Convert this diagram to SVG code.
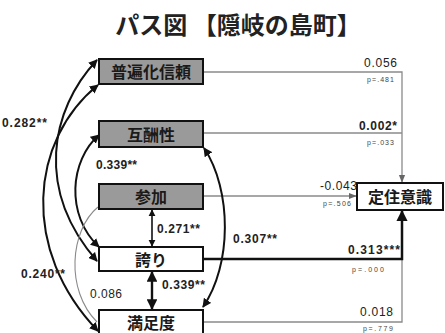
<svg xmlns="http://www.w3.org/2000/svg" width="445" height="333" viewBox="0 0 445 333">
<style>
.box{stroke:#111;stroke-width:2}
.g{fill:#9a9a9a}
.w{fill:#fff}
.bl{font-family:"Noto Sans CJK JP","Noto Sans",sans-serif;font-weight:bold;font-size:16px;fill:#1a1a1a;text-anchor:middle}
.num{font-family:"Liberation Sans","Noto Sans",sans-serif;font-size:12px;fill:#222}
.b{font-weight:bold}
.p{font-family:"Liberation Sans",sans-serif;font-size:7px;fill:#444}
.gl{fill:none;stroke:#8a8a8a;stroke-width:1.3}
.k{fill:none;stroke:#111;stroke-width:2}
</style>
<defs>
<marker id="ak" viewBox="0 0 10 10" refX="9" refY="5" markerWidth="4.5" markerHeight="4.5" orient="auto-start-reverse" markerUnits="strokeWidth"><path d="M0,0 L10,5 L0,10 z" fill="#111"/></marker>
<marker id="ag" viewBox="0 0 10 10" refX="9" refY="5" markerWidth="6" markerHeight="6" orient="auto-start-reverse" markerUnits="strokeWidth"><path d="M0,1 L10,5 L0,9 z" fill="#666"/></marker>
</defs>
<rect width="445" height="333" fill="#fff"/>
<text x="238" y="34" font-family="'Noto Sans CJK JP',sans-serif" font-weight="bold" font-size="24" fill="#222" text-anchor="middle">パス図 【隠岐の島町】</text>

<g id="connectors">
<path class="gl" d="M203,72 H402 V182" marker-end="url(#ag)"/>
<path class="gl" d="M203,133 H402"/>
<path class="gl" d="M203,196 H356" marker-end="url(#ag)"/>
<path class="gl" d="M203,322 H402 V259"/>
<path d="M203,259 H402 V211" fill="none" stroke="#111" stroke-width="2.5" marker-end="url(#ak)"/>
<path d="M152,210 V246" fill="none" stroke="#111" stroke-width="1.6" marker-start="url(#ak)" marker-end="url(#ak)"/>
<path d="M152,272 V309" fill="none" stroke="#111" stroke-width="2.4" marker-start="url(#ak)" marker-end="url(#ak)"/>
<path class="k" d="M97,60 C50,110 35,190 97,261" marker-start="url(#ak)" marker-end="url(#ak)"/>
<path class="k" d="M98,85 C30,140 20,250 98,331" marker-start="url(#ak)" marker-end="url(#ak)"/>
<path class="k" d="M99,135 C70,160 65,215 99,247" marker-start="url(#ak)" marker-end="url(#ak)"/>
<path class="k" d="M204,148 C232,190 232,265 203,307" marker-start="url(#ak)" marker-end="url(#ak)"/>
<path d="M98,207 C70,230 65,290 97,322" fill="none" stroke="#8a8a8a" stroke-width="1.1"/>
</g>

<g id="n1"><rect class="box g" x="99" y="59" width="104" height="25"/><text class="bl" x="151" y="78">普遍化信頼</text></g>
<g id="n2"><rect class="box g" x="99" y="121" width="104" height="26"/><text class="bl" x="151" y="141">互酬性</text></g>
<g id="n3"><rect class="box g" x="99" y="184" width="104" height="25"/><text class="bl" x="151" y="203">参加</text></g>
<g id="n4"><rect class="box w" x="99" y="247" width="104" height="24"/><text class="bl" x="151" y="266">誇り</text></g>
<g id="n5"><rect class="box w" x="99" y="310" width="104" height="26"/><text class="bl" x="151" y="329">満足度</text></g>
<g id="n6"><rect class="box w" x="357" y="183" width="86" height="27"/><text class="bl" x="400" y="203">定住意識</text></g>

<g id="labels">
<text class="num" x="364" y="67" textLength="33">0.056</text>
<text class="p" x="367" y="82" textLength="27">p=.481</text>
<text class="num b" x="359" y="130" textLength="38">0.002*</text>
<text class="p" x="367" y="145" textLength="27">p=.033</text>
<text class="num" x="320" y="190" textLength="37">-0.043</text>
<text class="p" x="323" y="206" textLength="28">p=.506</text>
<text class="num b" x="233" y="243" textLength="44">0.307**</text>
<text class="num b" x="348" y="254" textLength="52">0.313***</text>
<text class="p" x="352" y="272" textLength="32">p=.000</text>
<text class="num" x="360" y="316" textLength="33">0.018</text>
<text class="p" x="363" y="331" textLength="30">p=.779</text>
<text class="num b" x="2" y="127" textLength="45">0.282**</text>
<text class="num b" x="96" y="169" textLength="41">0.339**</text>
<text class="num b" x="157" y="233" textLength="43">0.271**</text>
<text class="num b" x="162" y="289" textLength="43">0.339**</text>
<text class="num b" x="21" y="278" textLength="44">0.240**</text>
<text class="num" x="90" y="298" textLength="32" fill="#555">0.086</text>
</g>
</svg>
